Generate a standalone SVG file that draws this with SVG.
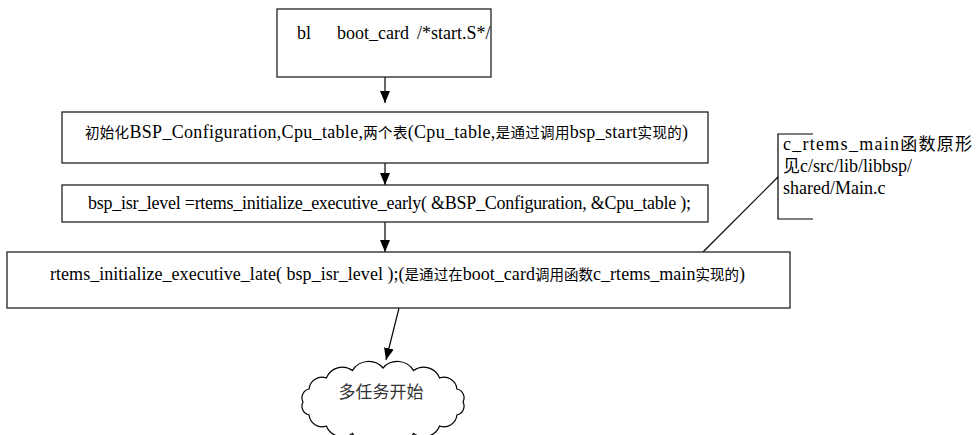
<svg xmlns="http://www.w3.org/2000/svg" width="976" height="435" viewBox="0 0 976 435">
<style>
  .box { fill: #ffffff; stroke: #222222; stroke-width: 1.3; }
  .lbl { font-family: "Liberation Serif", "Noto Sans CJK SC", serif; font-size: 18px; fill: #000000; }
  .cjk { font-family: "Noto Sans CJK SC", sans-serif; font-size: 14.5px; }
  .cjkb { font-family: "Noto Sans CJK SC", sans-serif; font-size: 17px; }
  .conn { stroke: #000000; stroke-width: 1.2; fill: none; }
</style>
<defs>
  <marker id="ah" markerWidth="12" markerHeight="10" refX="12" refY="5" orient="auto" markerUnits="userSpaceOnUse">
    <path d="M0,0 L12,5 L0,10 z" fill="#000000"/>
  </marker>
</defs>
<rect width="976" height="435" fill="#ffffff"/>

<g id="connectors">
  <line class="conn" x1="385" y1="77" x2="385" y2="103" marker-end="url(#ah)"/>
  <line class="conn" x1="385" y1="163" x2="385" y2="185" marker-end="url(#ah)"/>
  <line class="conn" x1="385" y1="222" x2="385" y2="252" marker-end="url(#ah)"/>
  <line class="conn" x1="399" y1="308" x2="386" y2="360" marker-end="url(#ah)"/>
  <line class="conn" x1="703" y1="252" x2="778" y2="177"/>
</g>

<g id="node-bootcard">
  <rect class="box" x="277" y="9" width="214" height="68"/>
  <text class="lbl" font-family="Liberation Serif, serif" y="39"><tspan x="297">bl</tspan><tspan x="337">boot_card</tspan><tspan x="417">/*start.S*/</tspan></text>
</g>

<g id="node-init">
  <rect class="box" x="62" y="112" width="646" height="51"/>
  <text class="lbl" x="85" y="138" textLength="603" lengthAdjust="spacing"><tspan class="cjk">初始化</tspan>BSP_Configuration,Cpu_table,<tspan class="cjk">两个表</tspan>(Cpu_table,<tspan class="cjk">是通过调用</tspan>bsp_start<tspan class="cjk">实现的</tspan>)</text>
</g>

<g id="node-early">
  <rect class="box" x="62" y="185" width="646" height="37"/>
  <text class="lbl" x="88" y="209" textLength="603" lengthAdjust="spacing">bsp_isr_level =rtems_initialize_executive_early( &amp;BSP_Configuration, &amp;Cpu_table );</text>
</g>

<g id="node-late">
  <rect class="box" x="7" y="252" width="783" height="56"/>
  <text class="lbl" x="50" y="280" textLength="695" lengthAdjust="spacing">rtems_initialize_executive_late( bsp_isr_level );(<tspan class="cjk">是通过在</tspan>boot_card<tspan class="cjk">调用函数</tspan>c_rtems_main<tspan class="cjk">实现的</tspan>)</text>
</g>

<g id="node-callout">
  <path class="conn" d="M813,134 H778 V219 H813"/>
  <text class="lbl" x="783" y="150" textLength="189" lengthAdjust="spacing">c_rtems_main<tspan class="cjkb">函数原形</tspan></text>
  <text class="lbl" x="783" y="172"><tspan class="cjkb">见</tspan>c/src/lib/libbsp/</text>
  <text class="lbl" x="783" y="194">shared/Main.c</text>
</g>

<g id="node-multitask">
  <path class="conn" d="M463,402 A9,9 0 0 1 456.9,415 A13,13 0 0 1 439.6,426 A17,17 0 0 1 413.6,433.4 A19,19 0 0 1 383,436 A19,19 0 0 1 352.4,433.4 A17,17 0 0 1 326.4,426 A13,13 0 0 1 309.1,415 A9,9 0 0 1 303,402 A9,9 0 0 1 309.1,389 A13,13 0 0 1 326.4,378 A17,17 0 0 1 352.4,370.6 A19,19 0 0 1 383,368 A19,19 0 0 1 413.6,370.6 A17,17 0 0 1 439.6,378 A13,13 0 0 1 456.9,389 A9,9 0 0 1 463,402 Z" fill="#ffffff"/>
  <text x="381" y="398" text-anchor="middle" style="font-family: 'Noto Sans CJK SC', sans-serif; font-size: 17px; fill: #333333;">多任务开始</text>
</g>
</svg>
